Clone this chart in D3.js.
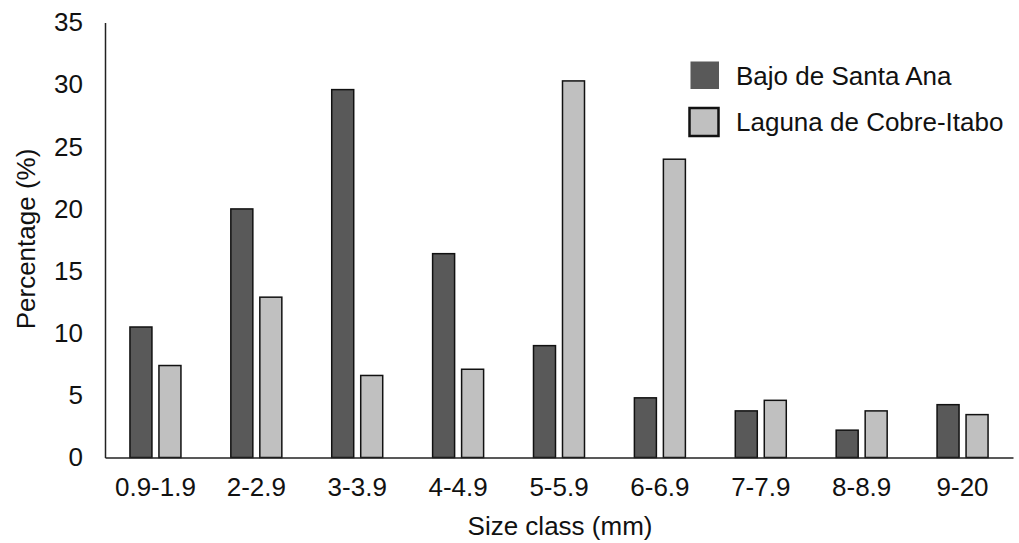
<!DOCTYPE html>
<html><head><meta charset="utf-8">
<script src="https://cdn.jsdelivr.net/npm/d3@7"></script>
<style>
body{margin:0;background:#fff;}
text{font-family:"Liberation Sans",Arial,sans-serif;fill:#111;}
</style></head>
<body><svg id="c" width="1019" height="543"></svg>
<script>
const categories = ["0.9-1.9","2-2.9","3-3.9","4-4.9","5-5.9","6-6.9","7-7.9","8-8.9","9-20"];
const seriesNames = ["Bajo de Santa Ana","Laguna de Cobre-Itabo"];
const bajoSantaAna = [10.5,20.0,29.6,16.4,9.0,4.8,3.75,2.2,4.25];
const lagunaCobre = [7.4,12.9,6.6,7.1,30.3,24.0,4.6,3.75,3.45];
const yTicks = [0,5,10,15,20,25,30,35];
const colors = ["#595959","#c0c0c0"];

const FS = "26px";
const svg = d3.select("#c");
const m = {l:105, r:1013, t:22.5, b:457.5};
const x = d3.scaleBand().domain(categories).range([m.l, m.r]).paddingInner(0).paddingOuter(0);
const y = d3.scaleLinear().domain([0,35]).range([m.b, m.t]);
const barW = 22, gap = 7;

// bars
const series = [bajoSantaAna, lagunaCobre];
series.forEach((vals, si) => {
  svg.append("g").selectAll("rect").data(vals).join("rect")
    .attr("x", (d,i) => x(categories[i]) + x.bandwidth()/2 + (si===0 ? -(barW + gap/2) : gap/2))
    .attr("y", d => y(d))
    .attr("width", barW)
    .attr("height", d => y(0) - y(d))
    .attr("fill", colors[si])
    .attr("stroke", "#111")
    .attr("stroke-width", 1.5);
});

// y axis
const yAxis = d3.axisLeft(y).tickValues(yTicks).tickSize(0).tickPadding(22);
const gy = svg.append("g").attr("transform", `translate(${m.l},0)`).call(yAxis);
gy.select(".domain").attr("stroke","#222").attr("stroke-width",1.5);
gy.selectAll("text").style("font-size",FS).style("font-family","'Liberation Sans',Arial,sans-serif").attr("fill","#111");

// x axis
const xAxis = d3.axisBottom(x).tickSize(0).tickPadding(20);
const gx = svg.append("g").attr("transform", `translate(0,${m.b})`).call(xAxis);
gx.select(".domain").attr("stroke","#222").attr("stroke-width",1.5);
gx.selectAll("text").style("font-size",FS).style("font-family","'Liberation Sans',Arial,sans-serif").attr("fill","#111");

// axis titles
svg.append("text").attr("x", 560).attr("y", 535).attr("text-anchor","middle")
  .style("font-size",FS).text("Size class (mm)");
svg.append("text").attr("transform","translate(35,239) rotate(-90)").attr("text-anchor","middle")
  .style("font-size",FS).text("Percentage (%)");

// legend
const lg = svg.append("g");
const lItems = [{y:61.5, c:colors[0], s:false},{y:108, c:colors[1], s:true}];
lItems.forEach((it,i) => {
  lg.append("rect").attr("x", it.s ? 689.5 : 690.5).attr("y", it.y)
    .attr("width", it.s ? 29 : 28.5).attr("height", it.s ? 28 : 27.5)
    .attr("fill", it.c).attr("stroke", it.s ? "#111" : "none").attr("stroke-width", 2.5);
  lg.append("text").attr("x", 736).attr("y", it.y + 14).attr("dy","0.35em")
    .style("font-size",FS).text(seriesNames[i]);
});
</script></body></html>
